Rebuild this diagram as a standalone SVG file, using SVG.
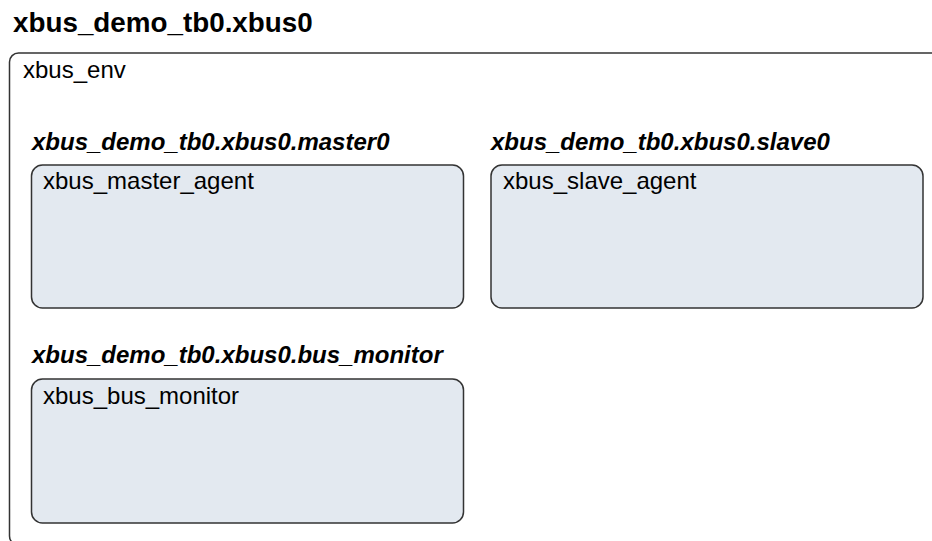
<svg xmlns="http://www.w3.org/2000/svg" width="932" height="541" viewBox="0 0 932 541">
<style>
.title{font-family:"Liberation Sans",Arial,sans-serif;font-size:27.8px;font-weight:bold;fill:#000}
.lbl{font-family:"Liberation Sans",Arial,sans-serif;font-size:24px;font-weight:bold;font-style:italic;fill:#000}
.txt{font-family:"Liberation Sans",Arial,sans-serif;font-size:24px;fill:#000}
.env{fill:#fff;stroke:#333;stroke-width:1.5}
.agent{fill:#e3e9f0;stroke:#333;stroke-width:1.5}
</style>
<rect width="932" height="541" fill="#fff"/>
<text class="title" x="13" y="32">xbus_demo_tb0.xbus0</text>
<g id="xbus_env">
<rect class="env" x="9.5" y="53" width="940" height="492" rx="9"/>
<text class="txt" x="23" y="78">xbus_env</text>
</g>
<g id="master0">
<text class="lbl" x="32" y="150">xbus_demo_tb0.xbus0.master0</text>
<rect class="agent" x="31.5" y="165" width="432" height="143" rx="11"/>
<text class="txt" x="43" y="189">xbus_master_agent</text>
</g>
<g id="slave0">
<text class="lbl" x="491" y="150">xbus_demo_tb0.xbus0.slave0</text>
<rect class="agent" x="491" y="165" width="432" height="143" rx="11"/>
<text class="txt" x="503" y="189">xbus_slave_agent</text>
</g>
<g id="bus_monitor">
<text class="lbl" x="32" y="363">xbus_demo_tb0.xbus0.bus_monitor</text>
<rect class="agent" x="31.5" y="379" width="432" height="144" rx="11"/>
<text class="txt" x="43" y="404">xbus_bus_monitor</text>
</g>
<g id="connectors"></g>
</svg>
